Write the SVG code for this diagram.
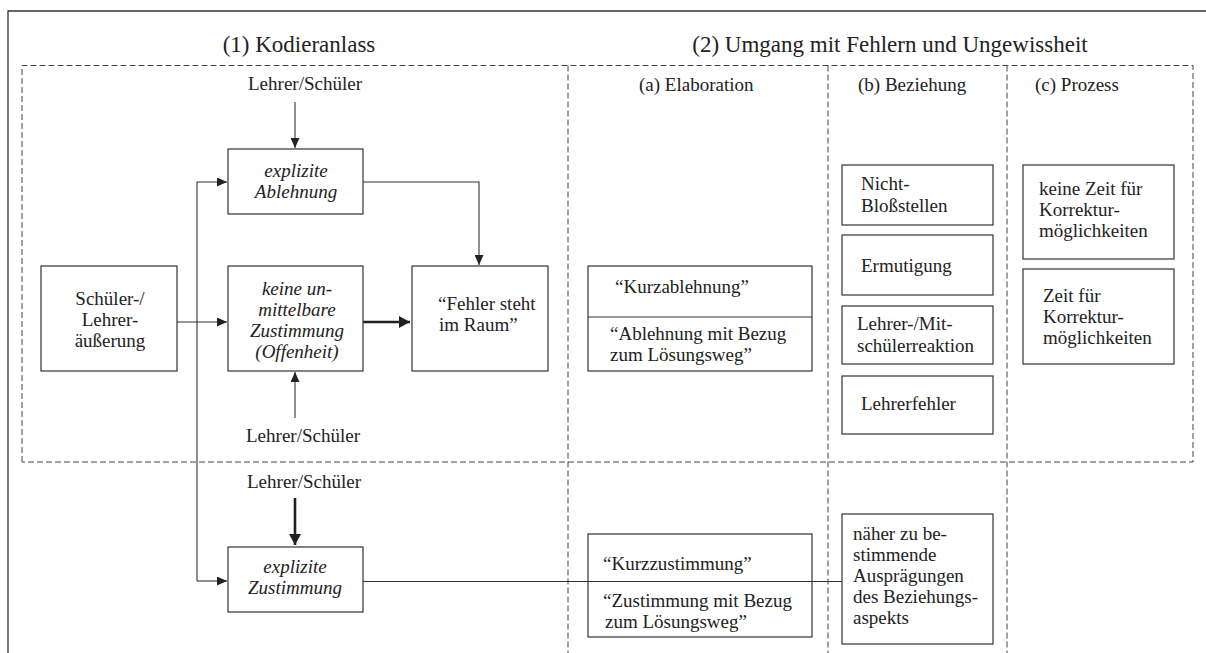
<svg xmlns="http://www.w3.org/2000/svg" width="1206" height="653" viewBox="0 0 1206 653">
<style>
text{font-family:'Liberation Serif','Times New Roman',Times,Tinos,'Nimbus Roman','Noto Serif','DejaVu Serif',serif;font-size:19px;fill:#222}
.title{font-size:23px}
.it{font-style:italic}
.c{text-anchor:middle}
.box{fill:#fff;stroke:#333;stroke-width:1.2}
.frame{fill:none;stroke:#333;stroke-width:1.3}
.dash{fill:none;stroke:#444;stroke-width:1;stroke-dasharray:6 3}
.ln{fill:none;stroke:#333;stroke-width:1.1}
.thick{fill:none;stroke:#222;stroke-width:2.6}
</style>
<defs>
<marker id="ah" markerUnits="userSpaceOnUse" markerWidth="10" markerHeight="9" refX="10" refY="4.5" orient="auto">
<path d="M0,0 L10,4.5 L0,9 z" fill="#222"/>
</marker>
<marker id="ahb" markerUnits="userSpaceOnUse" markerWidth="11" markerHeight="12" refX="11" refY="6" orient="auto">
<path d="M0,0 L11,6 L0,12 z" fill="#222"/>
</marker>
</defs>
<g id="frame">
<path class="frame" d="M8,653 V11 H1206"/>
<path class="dash" d="M22,462 V65.5 H1193 V462 H22"/>
<path class="dash" d="M568,65.5 V653 M828,65.5 V653 M1007,65.5 V653"/>
</g>
<g id="headings">
<text class="title c" x="299" y="52">(1) Kodieranlass</text>
<text class="title c" x="890" y="52">(2) Umgang mit Fehlern und Ungewissheit</text>
<text x="639" y="91">(a) Elaboration</text>
<text x="858" y="91">(b) Beziehung</text>
<text x="1035" y="91">(c) Prozess</text>
</g>
<g id="connectors">
<path class="ln" d="M295,102 V148" marker-end="url(#ah)"/>
<path class="ln" d="M197,581 V182 H227" marker-end="url(#ah)"/>
<path class="ln" d="M197,581 H227" marker-end="url(#ah)"/>
<path class="ln" d="M177,322 H227" marker-end="url(#ah)"/>
<path class="ln" d="M363,182 H479 V265" marker-end="url(#ah)"/>
<path class="thick" d="M363,322 H410" marker-end="url(#ahb)"/>
<path class="ln" d="M295,418 V372" marker-end="url(#ah)"/>
<path class="thick" d="M295,498 V545" marker-end="url(#ahb)"/>
<path class="ln" d="M363,581.5 H842"/>
</g>
<g id="lbl-top"><text class="c" x="305" y="90">Lehrer/Schüler</text></g>
<g id="lbl-mid"><text class="c" x="303" y="442">Lehrer/Schüler</text></g>
<g id="lbl-bot"><text class="c" x="304" y="488">Lehrer/Schüler</text></g>
<g id="n-aeusserung">
<rect class="box" x="41" y="266" width="136" height="105"/>
<text class="c" x="110" y="305">Schüler-/</text>
<text class="c" x="110" y="326">Lehrer-</text>
<text class="c" x="110" y="347">äußerung</text>
</g>
<g id="n-ablehnung">
<rect class="box" x="228" y="149" width="135" height="65"/>
<text class="c it" x="296" y="177">explizite</text>
<text class="c it" x="296" y="198">Ablehnung</text>
</g>
<g id="n-offenheit">
<rect class="box" x="228" y="266" width="135" height="105"/>
<text class="c it" x="297" y="295">keine un-</text>
<text class="c it" x="297" y="316">mittelbare</text>
<text class="c it" x="297" y="337">Zustimmung</text>
<text class="c it" x="297" y="358">(Offenheit)</text>
</g>
<g id="n-fehler">
<rect class="box" x="412" y="266" width="136" height="105"/>
<text x="438" y="310">“Fehler steht</text>
<text x="439" y="331">im Raum”</text>
</g>
<g id="n-zustimmung">
<rect class="box" x="228" y="547" width="135" height="65"/>
<text class="c it" x="295" y="573">explizite</text>
<text class="c it" x="295" y="594">Zustimmung</text>
</g>
<g id="n-elab-ablehnung">
<rect class="box" x="588" y="266" width="224" height="105"/>
<line class="ln" x1="588" y1="317" x2="812" y2="317"/>
<text x="615" y="293">“Kurzablehnung”</text>
<text x="610" y="340">“Ablehnung mit Bezug</text>
<text x="610" y="361">zum Lösungsweg”</text>
</g>
<g id="n-elab-zustimmung">
<rect class="box" x="588" y="534" width="224" height="103" style="fill:none"/>
<text x="603" y="570">“Kurzzustimmung”</text>
<text x="603" y="607">“Zustimmung mit Bezug</text>
<text x="605" y="628">zum Lösungsweg”</text>
</g>
<g id="n-bloss">
<rect class="box" x="842" y="165" width="151" height="60"/>
<text x="861" y="190">Nicht-</text>
<text x="861" y="212">Bloßstellen</text>
</g>
<g id="n-ermutigung">
<rect class="box" x="842" y="235" width="151" height="60"/>
<text x="861" y="272">Ermutigung</text>
</g>
<g id="n-reaktion">
<rect class="box" x="842" y="306" width="151" height="58"/>
<text x="857" y="330">Lehrer-/Mit-</text>
<text x="857" y="352">schülerreaktion</text>
</g>
<g id="n-lehrerfehler">
<rect class="box" x="842" y="376" width="151" height="58"/>
<text x="861" y="410">Lehrerfehler</text>
</g>
<g id="n-naeher">
<rect class="box" x="842" y="514" width="151" height="130"/>
<text x="853" y="540">näher zu be-</text>
<text x="853" y="561">stimmende</text>
<text x="853" y="582">Ausprägungen</text>
<text x="853" y="603">des Beziehungs-</text>
<text x="853" y="624">aspekts</text>
</g>
<g id="n-keinezeit">
<rect class="box" x="1023" y="165" width="151" height="94"/>
<text x="1039" y="195">keine Zeit für</text>
<text x="1039" y="216">Korrektur-</text>
<text x="1039" y="237">möglichkeiten</text>
</g>
<g id="n-zeit">
<rect class="box" x="1023" y="269" width="151" height="95"/>
<text x="1043" y="302">Zeit für</text>
<text x="1043" y="323">Korrektur-</text>
<text x="1043" y="344">möglichkeiten</text>
</g>
</svg>
